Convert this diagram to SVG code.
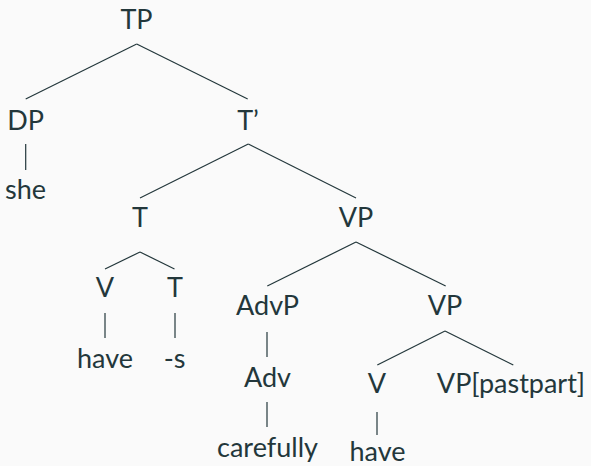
<svg xmlns="http://www.w3.org/2000/svg" width="591" height="466" viewBox="0 0 591 466">
<style>
text{font-family:Lato,"Liberation Sans",sans-serif;font-size:27px;font-weight:400;fill:#23373b;text-anchor:middle}
.e line{stroke:#23373b;stroke-width:1.2;fill:none}
</style>
<rect width="591" height="466" fill="#fafafa"/>
<g class="e" id="edges">
<line x1="136.7" y1="44" x2="25.7" y2="99"/>
<line x1="136.7" y1="44" x2="247.7" y2="99"/>
<line x1="25.7" y1="144" x2="25.7" y2="170"/>
<line x1="248.3" y1="144" x2="140" y2="198"/>
<line x1="248.3" y1="144" x2="356" y2="198"/>
<line x1="140" y1="252" x2="105" y2="269"/>
<line x1="140" y1="252" x2="174.5" y2="269"/>
<line x1="356" y1="242" x2="267.3" y2="286"/>
<line x1="356" y1="242" x2="445.7" y2="286"/>
<line x1="105" y1="313" x2="105" y2="338"/>
<line x1="175" y1="313" x2="175" y2="338"/>
<line x1="267" y1="332" x2="267" y2="357"/>
<line x1="445" y1="331" x2="377.3" y2="365"/>
<line x1="445" y1="331" x2="513.3" y2="365"/>
<line x1="267" y1="402" x2="267" y2="427"/>
<line x1="377" y1="412" x2="377" y2="435"/>
</g>
<g id="TP"><text x="136.5" y="29">TP</text></g>
<g id="DP"><text x="25.5" y="130">DP</text></g>
<g id="she"><text x="25.5" y="199">she</text></g>
<g id="Tbar"><text x="248" y="130">T’</text></g>
<g id="T"><text x="140" y="227">T</text></g>
<g id="VP1"><text x="356" y="227">VP</text></g>
<g id="V1"><text x="105" y="297">V</text></g>
<g id="T2"><text x="175" y="297">T</text></g>
<g id="have1"><text x="105" y="368">have</text></g>
<g id="s"><text x="174.5" y="368">-s</text></g>
<g id="AdvP"><text x="267.5" y="315">AdvP</text></g>
<g id="VP2"><text x="445" y="315">VP</text></g>
<g id="Adv"><text x="267.5" y="387">Adv</text></g>
<g id="V2"><text x="377" y="393">V</text></g>
<g id="VPpast"><text x="511" y="393">VP[pastpart]</text></g>
<g id="carefully"><text x="267.5" y="457">carefully</text></g>
<g id="have2"><text x="377.5" y="461">have</text></g>
</svg>
